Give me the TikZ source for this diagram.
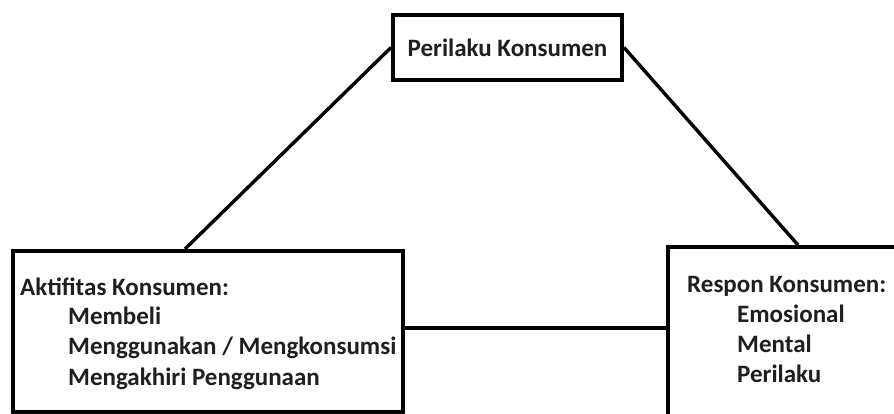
\documentclass[tikz,border=0pt]{standalone}
\usepackage{fontspec}
\setmainfont{Carlito}
\begin{document}
\begin{tikzpicture}[x=1pt,y=-1pt,
  box/.style={draw=black,line width=4pt,rectangle,inner sep=0pt},
  link/.style={draw=black,line width=3.4pt},
  lbl/.style={inner sep=0pt,anchor=base west,font=\fontsize{25}{30}\selectfont\bfseries,text=black!88}]
\fill[white] (0,0) rectangle (894,414);
\useasboundingbox (0,0) rectangle (894,414);
\clip (0,0) rectangle (894,414);
\node[box,minimum width=229pt,minimum height=65pt,font=\fontsize{25}{30}\selectfont\bfseries,text=black!88] (top) at (507.5,47.5) {Perilaku Konsumen};
\node[box,minimum width=390pt,minimum height=161pt] (L) at (208,331.5) {};
\node[box,minimum width=260pt,minimum height=183pt] (R) at (798,338.5) {};
\draw[link] (top.west) -- ([xshift=-23pt]L.north);
\draw[link] (top.east) -- (R.north);
\draw[link] ([yshift=3.5pt]L.east) -- ([yshift=3.5pt]L.east -| R.west);
\node[lbl] (l1) at (20,295) {Aktifitas Konsumen:};
\node[lbl] (l2) at (68,324) {Membeli};
\node[lbl] (l3) at (68,354) {Menggunakan / Mengkonsumsi};
\node[lbl] (l4) at (68,385) {Mengakhiri Penggunaan};
\node[lbl] (r1) at (687,292) {Respon Konsumen:};
\node[lbl] (r2) at (737,322) {Emosional};
\node[lbl] (r3) at (737,352) {Mental};
\node[lbl] (r4) at (737,382) {Perilaku};
\end{tikzpicture}
\end{document}
